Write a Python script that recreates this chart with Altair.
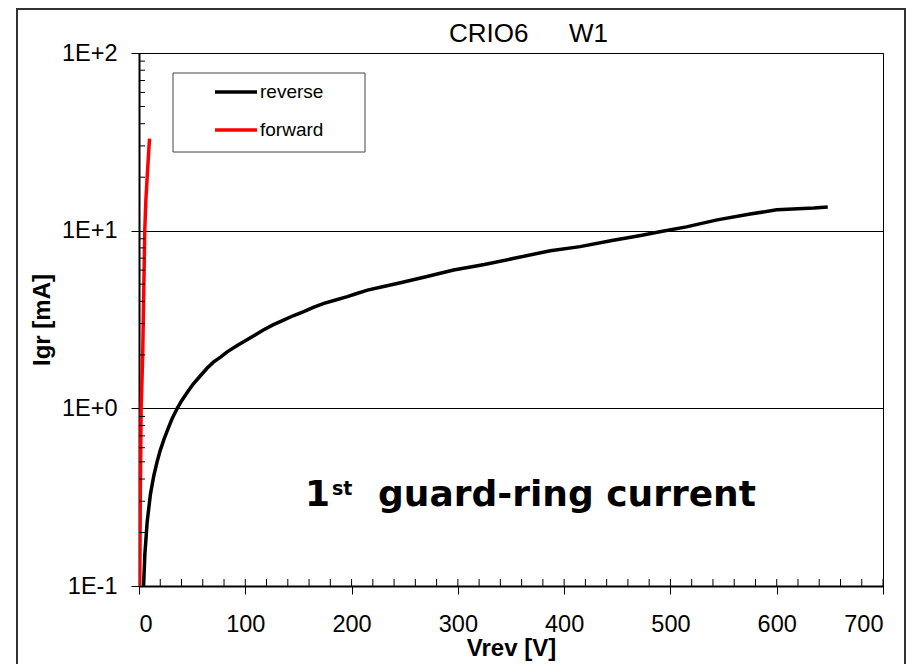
import altair as alt
import pandas as pd

# Reverse-bias sweep of the first guard ring: bias voltage [V] and current [mA]
rev_v = [4.3, 5.5, 7.7, 10.8, 14, 17, 20, 23.5, 27, 31, 36, 40, 45, 51, 58, 64, 70, 77,
         83, 92, 102, 110, 117, 126, 136, 145, 155, 164, 174, 185, 196, 205, 215, 227,
         246, 270, 296, 325, 353, 387, 415, 445, 472, 490, 515, 544, 575, 600, 620, 635, 648]
rev_i = [0.10, 0.15, 0.23, 0.33, 0.42, 0.50, 0.58, 0.67, 0.76, 0.87, 1.00, 1.10, 1.22,
         1.37, 1.53, 1.68, 1.82, 1.95, 2.08, 2.25, 2.44, 2.60, 2.76, 2.95, 3.14, 3.32,
         3.50, 3.70, 3.90, 4.07, 4.25, 4.43, 4.63, 4.80, 5.09, 5.50, 6.01, 6.45, 6.99,
         7.71, 8.13, 8.80, 9.40, 9.85, 10.5, 11.5, 12.4, 13.1, 13.3, 13.4, 13.6]

# Forward sweep
fwd_v = [0.7, 1.2, 2.0, 3.5, 4.3, 5.0, 5.4, 6.5, 7.7, 9.0, 9.9]
fwd_i = [0.1, 0.3, 1.0, 2.0, 4.0, 7.0, 10, 15, 20, 27, 33]

series_names = ["reverse", "forward"]
series_colors = ["#000000", "#ff0000"]

x_ticks = [0, 100, 200, 300, 400, 500, 600, 700]
x_minor = list(range(20, 701, 20))
y_ticks = [0.1, 1, 10, 100]
y_minor = [m * d for d in (0.1, 1, 10) for m in range(2, 10)]

W, H = 744, 533
FONT = "Liberation Sans, Arial, sans-serif"

curves = pd.concat([
    pd.DataFrame({"V": rev_v, "I": rev_i, "series": "reverse"}),
    pd.DataFrame({"V": fwd_v, "I": fwd_i, "series": "forward"}),
])

xs = alt.Scale(domain=[0, 700], nice=False, zero=False)
ys = alt.Scale(type="log", domain=[0.1, 100], nice=False)

x_axis = alt.Axis(values=x_ticks, title="Vrev [V]", tickSize=8, labelPadding=18,
                  grid=False, titleY=69, titleBaseline="alphabetic")
y_axis = alt.Axis(values=y_ticks, title="Igr [mA]", tickSize=8, labelPadding=14,
                  grid=True, titleX=-90, titleBaseline="alphabetic",
                  labelExpr="'1E' + (datum.value < 1 ? '-' : '+') + "
                            "abs(round(log(datum.value) / LN10))")

lines = alt.Chart(curves).mark_line(strokeWidth=3.5, clip=True).encode(
    x=alt.X("V:Q", scale=xs, axis=x_axis),
    y=alt.Y("I:Q", scale=ys, axis=y_axis),
    color=alt.Color("series:N", scale=alt.Scale(domain=series_names, range=series_colors),
                    legend=None),
    detail="series:N",
)

# minor ticks pointing into the plot (same scales and axes as the curves)
x_minor_ticks = alt.Chart(pd.DataFrame({"V": x_minor})).mark_rule(
    color="black", strokeWidth=1).encode(
    x=alt.X("V:Q", scale=xs, axis=x_axis), y=alt.value(H), y2=alt.value(H - 7))
y_minor_ticks = alt.Chart(pd.DataFrame({"I": y_minor})).mark_rule(
    color="black", strokeWidth=1).encode(
    y=alt.Y("I:Q", scale=ys, axis=y_axis), x=alt.value(0), x2=alt.value(6))

one = pd.DataFrame({"a": [0]})

# legend box
legend_box = alt.Chart(one).mark_rect(fill="white", stroke="#444444", strokeWidth=1).encode(
    x=alt.value(34), x2=alt.value(226), y=alt.value(20), y2=alt.value(99))
legend_parts = [legend_box]
for k, (name, col) in enumerate(zip(series_names, series_colors)):
    yy = 39 + 38 * k
    legend_parts.append(alt.Chart(one).mark_rule(color=col, strokeWidth=3.5).encode(
        x=alt.value(76), x2=alt.value(118), y=alt.value(yy)))
    legend_parts.append(alt.Chart(one).mark_text(
        text=name, font=FONT, fontSize=19, align="left", baseline="middle", color="black").encode(
        x=alt.value(121), y=alt.value(yy)))

# heading
head1 = alt.Chart(one).mark_text(text="CRIO6", font=FONT, fontSize=26, align="left",
                                 baseline="alphabetic", color="black").encode(
    x=alt.value(310), y=alt.value(-11))
head2 = alt.Chart(one).mark_text(text="W1", font=FONT, fontSize=26, align="left",
                                 baseline="alphabetic", color="black").encode(
    x=alt.value(430), y=alt.value(-11))

# annotation
ANN_FONT = "Comic Sans MS, DejaVu Sans, sans-serif"
ann1 = alt.Chart(one).mark_text(text="1", font=ANN_FONT, fontSize=36, fontWeight="bold",
                                align="left", baseline="alphabetic", color="black").encode(
    x=alt.value(166), y=alt.value(453))
ann2 = alt.Chart(one).mark_text(text="st", font=ANN_FONT, fontSize=19, fontWeight="bold",
                                align="left", baseline="alphabetic", color="black").encode(
    x=alt.value(193), y=alt.value(442))
ann3 = alt.Chart(one).mark_text(text="guard-ring current", font=ANN_FONT, fontSize=36,
                                fontWeight="bold", align="left", baseline="alphabetic",
                                color="black").encode(
    x=alt.value(239), y=alt.value(453))

# outer frame around the whole figure
frame = alt.Chart(one).mark_rect(fill="transparent", stroke="#333333", strokeWidth=2,
                                 clip=False).encode(
    x=alt.value(-122), x2=alt.value(766), y=alt.value(-44), y2=alt.value(620))

chart = alt.layer(
    lines, x_minor_ticks, y_minor_ticks, *legend_parts, head1, head2, ann1, ann2, ann3, frame
).properties(
    width=W, height=H,
    autosize=alt.AutoSizeParams(type="none"),
    padding={"left": 139, "top": 53, "right": 27, "bottom": 78},
    background="white",
).configure_view(
    stroke="black", strokeWidth=1
).configure_axis(
    domainColor="black", domainWidth=2, tickColor="black", tickWidth=1,
    labelFont=FONT, labelFontSize=23.5, labelColor="black",
    titleFont=FONT, titleFontSize=24, titleFontWeight="bold", titleColor="black",
    gridColor="black", gridWidth=1, gridOpacity=1,
)

chart.save("out.html", embed_options={"renderer": "svg", "actions": False})
